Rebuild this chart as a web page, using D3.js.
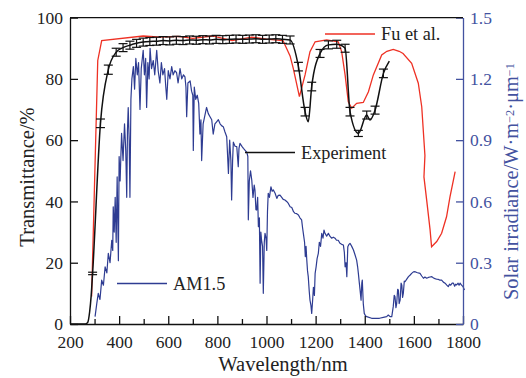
<!DOCTYPE html>
<html>
<head>
<meta charset="utf-8">
<script src="https://cdn.jsdelivr.net/npm/d3@7.9.0/dist/d3.min.js"></script>
<style>
  body { margin: 0; background: #fff; }
  svg { display: block; font-family: "Liberation Serif", "Times New Roman", serif; }
</style>
</head>
<body>
<div id="chart"></div>
<script>
// ---------- Data ----------
// experiment: [wavelength nm, transmittance %, error bar half-height %] (0 = no bar)
const experiment = [
  [200, 0, 0], [240, 0, 0], [262, 0, 0], [272, 0.5, 0], [280, 4, 0], [286, 9, 0],
  [292, 16.5, 0.4], [324, 65.5, 1.4], [356, 83, 1.5], [388, 88.7, 1.3], [416, 90.2, 1.3],
  [444, 91, 1.3], [471, 91.6, 1.3], [498, 92.0, 1.3], [525, 92.2, 1.3], [552, 92.3, 1.3],
  [579, 92.5, 1.3], [606, 92.4, 1.3], [633, 92.6, 1.3], [660, 92.5, 1.3], [687, 92.7, 1.3],
  [714, 92.6, 1.3], [741, 92.8, 1.3], [768, 92.7, 1.3], [795, 92.9, 1.3], [822, 92.8, 1.3],
  [849, 92.9, 1.3], [876, 93.0, 1.3], [903, 92.9, 1.3], [930, 93.0, 1.3], [957, 93.1, 1.3],
  [984, 92.9, 1.3], [1011, 93.0, 1.3], [1038, 93.1, 1.3], [1065, 92.9, 1.3], [1096, 92.7, 1.3],
  [1130, 84, 1.4], [1157, 69.3, 1.4], [1170, 66, 0], [1184, 77.5, 1.4], [1218, 88.3, 1.3],
  [1252, 91.1, 1.3], [1286, 91.3, 1.3], [1320, 90, 1.3], [1340, 69.3, 1.4], [1374, 62.2, 1.0],
  [1408, 68.2, 1.3], [1421, 66.6, 0], [1442, 69.8, 1.3], [1476, 81.8, 1.4], [1500, 85.8, 0]
];

// Fu et al.: [wavelength nm, transmittance %]
const fuEtAl = [
  [288, 9], [313, 86], [329, 92.5], [498, 94], [570, 93.6], [640, 93.9], [700, 93.2],
  [780, 94], [860, 92.5], [940, 93.6], [1000, 93], [1067, 92.5], [1096, 87.5], [1109, 83.4],
  [1134, 74.2], [1157, 81.3], [1177, 88.9], [1198, 92.1], [1245, 92.7], [1292, 92.1],
  [1306, 88.9], [1320, 81.3], [1333, 72.5], [1347, 70.4], [1367, 72], [1394, 72.3],
  [1415, 75.8], [1435, 81.3], [1469, 87.8], [1490, 89.0], [1516, 89.6], [1540, 89.0],
  [1556, 88.3], [1591, 85.1], [1618, 78.6], [1632, 70.9], [1645, 55], [1641, 48],
  [1652, 40.5], [1666, 30.7], [1672, 25.2], [1693, 26.9], [1713, 29.6], [1733, 35],
  [1747, 41.5], [1768, 49.7]
];

// AM1.5 solar spectrum: [wavelength nm, irradiance W·m-2·um-1]
const am15 = [
  [302,0.036],[309,0.10],[315,0.15],[322,0.12],[329,0.215],[336,0.19],[343,0.28],[350,0.25],
  [356,0.346],[363,0.30],[370,0.41],[374,0.36],[376,0.574],[380,0.45],[384,0.62],[388,0.40],
  [392,0.72],[397,0.31],[400,0.82],[404,0.70],[410,0.933],[416,0.80],[422,0.98],[427,0.85],
  [431,0.62],[434,0.95],[437,1.06],[441,0.90],[444,0.62],[448,1.10],[452,1.20],[458,1.26],
  [463,1.15],[468,1.30],[474,1.22],[479,1.28],[485,1.05],[490,1.25],[498,1.34],[503,1.22],
  [508,1.30],[512,1.06],[517,1.28],[522,1.20],[526,1.35],[532,1.25],[539,1.29],[545,1.22],
  [553,1.34],[559,1.24],[566,1.18],[572,1.28],[578,1.22],[585,1.25],[590,1.16],[594,1.10],
  [600,1.24],[607,1.20],[614,1.26],[620,1.22],[627,1.24],[634,1.23],[640,1.18],[648,1.25],
  [655,1.20],[662,1.22],[668,1.21],[672,1.16],[675,1.015],[680,1.18],[689,1.19],[695,1.14],
  [700,1.12],[702,0.85],[706,1.16],[712,1.10],[718,1.12],[724,1.08],[729,0.93],[733,1.00],
  [736,0.80],[742,0.98],[749,1.02],[756,1.06],[763,1.03],[770,1.015],[777,1.00],[783,0.93],
  [790,0.98],[797,0.99],[804,1.00],[811,0.98],[818,0.97],[824,0.966],[831,0.94],[838,0.917],
  [845,0.737],[850,0.90],[855,0.80],[858,0.607],[862,0.80],[865,0.89],[872,0.87],[879,0.868],
  [885,0.77],[888,0.86],[892,0.884],[900,0.87],[906,0.86],[913,0.85],[920,0.84],[924,0.82],
  [926,0.51],[930,0.70],[935,0.75],[940,0.705],[945,0.62],[950,0.68],[953,0.656],[957,0.56],
  [960,0.558],[964,0.62],[967,0.476],[971,0.52],[974,0.2],[977,0.45],[980,0.41],[984,0.38],
  [987,0.15],[991,0.40],[994,0.444],[998,0.42],[1001,0.36],[1004,0.55],[1007,0.64],[1012,0.62],
  [1018,0.672],[1023,0.65],[1028,0.656],[1035,0.64],[1042,0.615],[1048,0.63],[1055,0.631],
  [1062,0.62],[1068,0.61],[1075,0.607],[1082,0.60],[1089,0.59],[1096,0.574],[1103,0.57],
  [1110,0.55],[1116,0.542],[1123,0.54],[1130,0.534],[1136,0.52],[1143,0.51],[1147,0.47],
  [1150,0.444],[1155,0.40],[1158,0.33],[1161,0.38],[1164,0.313],[1167,0.26],[1170,0.232],
  [1174,0.16],[1177,0.117],[1181,0.09],[1184,0.052],[1188,0.12],[1191,0.18],[1195,0.14],
  [1198,0.248],[1202,0.28],[1206,0.32],[1211,0.346],[1215,0.40],[1220,0.38],[1225,0.444],
  [1230,0.42],[1234,0.46],[1238,0.444],[1245,0.43],[1252,0.444],[1258,0.43],[1265,0.42],
  [1272,0.425],[1279,0.42],[1285,0.41],[1292,0.41],[1299,0.395],[1306,0.39],[1313,0.387],
  [1317,0.35],[1320,0.28],[1324,0.30],[1327,0.232],[1331,0.378],[1336,0.39],[1340,0.395],
  [1347,0.38],[1354,0.362],[1360,0.34],[1367,0.313],[1371,0.28],[1374,0.248],[1378,0.20],
  [1381,0.166],[1385,0.117],[1388,0.20],[1390,0.215],[1394,0.10],[1398,0.052],[1403,0.04],
  [1408,0.036],[1428,0.028],[1460,0.028],[1480,0.034],[1489,0.036],[1496,0.044],[1503,0.036],
  [1510,0.036],[1516,0.085],[1520,0.14],[1523,0.134],[1527,0.08],[1530,0.1],[1534,0.17],
  [1537,0.166],[1540,0.10],[1544,0.117],[1548,0.20],[1551,0.19],[1554,0.13],[1557,0.15],
  [1561,0.21],[1564,0.207],[1571,0.22],[1578,0.232],[1585,0.24],[1591,0.248],[1598,0.255],
  [1605,0.256],[1612,0.252],[1618,0.25],[1625,0.248],[1632,0.235],[1639,0.224],[1645,0.23],
  [1652,0.224],[1659,0.228],[1666,0.23],[1673,0.232],[1680,0.225],[1686,0.222],[1693,0.219],
  [1700,0.218],[1706,0.215],[1713,0.215],[1720,0.205],[1727,0.2],[1734,0.19],[1740,0.183],
  [1745,0.195],[1750,0.19],[1756,0.2],[1761,0.2],[1766,0.185],[1770,0.195],[1774,0.191],
  [1780,0.2],[1784,0.19],[1788,0.2],[1794,0.19],[1800,0.183],[1806,0.166]
];

const xTicks = [200, 400, 600, 800, 1000, 1200, 1400, 1600, 1800];
const xMinorTicks = [300, 500, 700, 900, 1100, 1300, 1500, 1700];
const yLeftTicks = [0, 20, 40, 60, 80, 100];
const yRightTicks = [0, 0.3, 0.6, 0.9, 1.2, 1.5];

// ---------- Chart ----------
const width = 526, height = 378;
const plot = { left: 70, right: 463, top: 17.6, bottom: 324 };
const blue = "#2e3c92";
const axisBlue = "#4352a0";
const red = "#ee3124";
const serif = "'Liberation Serif', 'Times New Roman', serif";

const svg = d3.select("#chart").append("svg")
  .attr("width", width).attr("height", height);

const x = d3.scaleLinear().domain([200, 1800]).range([plot.left, plot.right]);
const yL = d3.scaleLinear().domain([0, 100]).range([plot.bottom, plot.top]);
const yR = d3.scaleLinear().domain([0, 1.5]).range([plot.bottom, plot.top]);

// AM1.5
svg.append("path")
  .datum(am15)
  .attr("fill", "none")
  .attr("stroke", blue)
  .attr("stroke-width", 1.2)
  .attr("stroke-linejoin", "round")
  .attr("d", d3.line().x(d => x(d[0])).y(d => yR(d[1])));

// Fu et al.
svg.append("path")
  .datum(fuEtAl)
  .attr("fill", "none")
  .attr("stroke", red)
  .attr("stroke-width", 1.3)
  .attr("d", d3.line().x(d => x(d[0])).y(d => yL(d[1])));

// Experiment
svg.append("path")
  .datum(experiment)
  .attr("fill", "none")
  .attr("stroke", "#111")
  .attr("stroke-width", 1.5)
  .attr("d", d3.line().curve(d3.curveMonotoneX).x(d => x(d[0])).y(d => yL(d[1])));

const bars = svg.append("g").attr("stroke", "#111").attr("stroke-width", 1.2);
experiment.filter(d => d[2] > 0).forEach(d => {
  const cx = x(d[0]), y1 = yL(d[1] + d[2]), y2 = yL(d[1] - d[2]);
  bars.append("line").attr("x1", cx).attr("x2", cx).attr("y1", y1).attr("y2", y2);
  bars.append("line").attr("x1", cx - 4.5).attr("x2", cx + 4.5).attr("y1", y1).attr("y2", y1);
  bars.append("line").attr("x1", cx - 4.5).attr("x2", cx + 4.5).attr("y1", y2).attr("y2", y2);
});

// ---------- Axes ----------
const gx = svg.append("g")
  .attr("transform", `translate(0,${plot.bottom})`)
  .call(d3.axisBottom(x).tickValues(xTicks).tickFormat(d3.format("d"))
    .tickSizeInner(-8).tickSizeOuter(0).tickPadding(12));
svg.append("g")
  .attr("transform", `translate(0,${plot.bottom})`)
  .call(d3.axisBottom(x).tickValues(xMinorTicks).tickSizeInner(-5).tickSizeOuter(0).tickFormat(""))
  .call(g => g.select(".domain").remove())
  .selectAll(".tick line").attr("stroke", "#111").attr("stroke-width", 1.3);

const gyl = svg.append("g")
  .attr("transform", `translate(${plot.left},0)`)
  .call(d3.axisLeft(yL).tickValues(yLeftTicks).tickSizeInner(-8).tickSizeOuter(0).tickPadding(7));

const gyr = svg.append("g")
  .attr("transform", `translate(${plot.right},0)`)
  .call(d3.axisRight(yR).tickValues(yRightTicks).tickSizeInner(-7).tickSizeOuter(0).tickPadding(7)
    .tickFormat(d => d === 0 ? "0" : d3.format(".1f")(d)));

// top border
svg.append("line")
  .attr("x1", plot.left).attr("x2", plot.right)
  .attr("y1", plot.top).attr("y2", plot.top)
  .attr("stroke", "#111").attr("stroke-width", 1.3);

[gx, gyl, gyr].forEach(g => g.attr("font-family", serif).attr("font-size", 17.5));
[gx, gyl].forEach(g => {
  g.selectAll(".domain, .tick line").attr("stroke", "#111").attr("stroke-width", 1.3);
  g.selectAll(".tick text").attr("fill", "#222");
});
gyr.selectAll(".domain, .tick line").attr("stroke", axisBlue).attr("stroke-width", 1.3);
gyr.selectAll(".tick text").attr("fill", axisBlue);

// ---------- Titles ----------
svg.append("text")
  .attr("x", 283).attr("y", 371)
  .attr("text-anchor", "middle")
  .style("font-size", "20.5px").attr("fill", "#222")
  .text("Wavelength/nm");

svg.append("text")
  .attr("transform", "translate(34,177) rotate(-90)")
  .attr("text-anchor", "middle")
  .style("font-size", "20.5px").attr("fill", "#222")
  .text("Transmittance/%");

// right title: starts at y = 300 and reads upward
const rt = svg.append("text")
  .attr("transform", "translate(518,300) rotate(-90)")
  .attr("text-anchor", "start")
  .style("font-size", "20px").attr("fill", axisBlue);
rt.append("tspan").text("Solar irradiance/W·m");
rt.append("tspan").attr("dy", "-0.35em").style("font-size", "0.6em").text("−2");
rt.append("tspan").attr("dy", "0.21em").text("·μm");
rt.append("tspan").attr("dy", "-0.35em").style("font-size", "0.6em").text("−1");
const rtLen = rt.node().getComputedTextLength();
if (rtLen > 0) rt.style("font-size", `${Math.max(17, Math.min(21, 20 * 237 / rtLen))}px`);

// ---------- Legend ----------
const legend = [
  { label: "Fu et al.", color: red, x1: 325, x2: 375, y: 34 },
  { label: "Experiment", color: "#111", x1: 245, x2: 295, y: 152.5 },
  { label: "AM1.5", color: blue, x1: 117, x2: 167, y: 283.5 }
];
legend.forEach(l => {
  svg.append("line")
    .attr("x1", l.x1).attr("x2", l.x2).attr("y1", l.y).attr("y2", l.y)
    .attr("stroke", l.color).attr("stroke-width", 1.3);
  svg.append("text")
    .attr("x", l.x2 + 6).attr("y", l.y + 6.3)
    .style("font-size", "18.3px").attr("fill", "#222")
    .text(l.label);
});
</script>
</body>
</html>
